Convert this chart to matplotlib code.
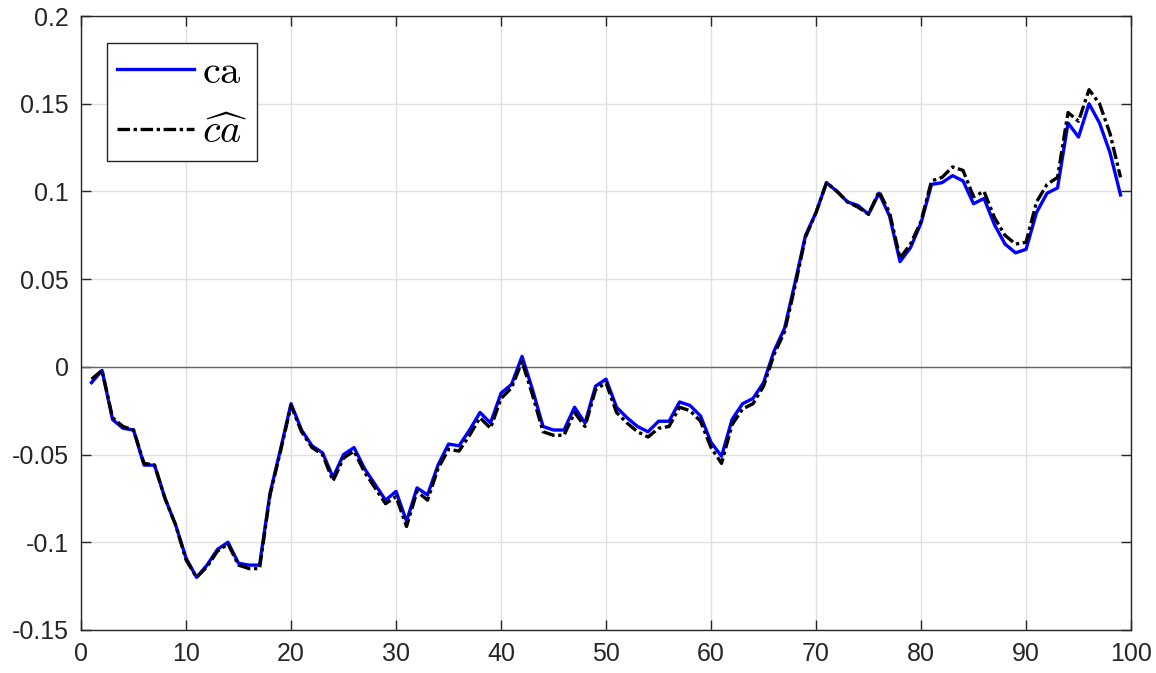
import numpy as np
import matplotlib
matplotlib.use("Agg")
import matplotlib.pyplot as plt

plt.rcParams["font.family"] = ["Liberation Sans", "DejaVu Sans"]
plt.rcParams["mathtext.fontset"] = "cm"
plt.rcParams["lines.scale_dashes"] = False

steps = list(range(1, 100))

ca = [
    -0.009, -0.002, -0.030, -0.035, -0.036, -0.056, -0.056, -0.075, -0.090, -0.109,
    -0.120, -0.113, -0.104, -0.100, -0.112, -0.113, -0.113, -0.072, -0.047, -0.021,
    -0.036, -0.045, -0.049, -0.063, -0.050, -0.046, -0.058, -0.067, -0.076, -0.071,
    -0.088, -0.069, -0.073, -0.056, -0.044, -0.045, -0.036, -0.026, -0.032, -0.015,
    -0.010, 0.006, -0.013, -0.034, -0.036, -0.036, -0.023, -0.032, -0.011, -0.007,
    -0.023, -0.029, -0.034, -0.037, -0.031, -0.031, -0.020, -0.022, -0.028, -0.043,
    -0.051, -0.030, -0.021, -0.018, -0.009, 0.009, 0.022, 0.048, 0.075, 0.088,
    0.105, 0.100, 0.094, 0.092, 0.087, 0.099, 0.086, 0.060, 0.068, 0.082,
    0.104, 0.105, 0.109, 0.106, 0.093, 0.096, 0.081, 0.070, 0.065, 0.067,
    0.088, 0.099, 0.102, 0.139, 0.131, 0.150, 0.139, 0.122, 0.098,
]

ca_hat = [
    -0.007, -0.002, -0.029, -0.034, -0.036, -0.055, -0.056, -0.075, -0.090, -0.110,
    -0.120, -0.114, -0.105, -0.101, -0.113, -0.115, -0.115, -0.073, -0.048, -0.022,
    -0.037, -0.046, -0.050, -0.065, -0.052, -0.048, -0.060, -0.069, -0.078, -0.074,
    -0.091, -0.071, -0.076, -0.058, -0.047, -0.048, -0.039, -0.029, -0.035, -0.018,
    -0.012, 0.003, -0.016, -0.037, -0.039, -0.039, -0.026, -0.034, -0.013, -0.009,
    -0.026, -0.032, -0.037, -0.040, -0.035, -0.034, -0.023, -0.025, -0.031, -0.046,
    -0.055, -0.033, -0.024, -0.021, -0.011, 0.007, 0.020, 0.046, 0.074, 0.088,
    0.105, 0.100, 0.094, 0.091, 0.087, 0.100, 0.088, 0.062, 0.070, 0.083,
    0.106, 0.108, 0.114, 0.112, 0.097, 0.100, 0.085, 0.075, 0.070, 0.071,
    0.094, 0.104, 0.108, 0.145, 0.140, 0.158, 0.150, 0.133, 0.108,
]

fig = plt.figure(figsize=(11.56, 6.73), dpi=100)
ax = fig.add_axes([0.0701, 0.0639, 0.9083, 0.9123])

axis_col = (0.15, 0.15, 0.15)

ax.plot(steps, ca, color=(0, 0, 1), lw=2.4, label=r"$\mathrm{ca}$", zorder=3)
ax.plot(steps, ca_hat, color="black", lw=2.4, dashes=(9, 2.6, 2.4, 2.6),
        label=r"$\widehat{ca}$", zorder=4)
ax.axhline(0, color=(0.4, 0.4, 0.4), lw=1.0, zorder=2)

ax.set_xlim(0, 100)
ax.set_ylim(-0.15, 0.2)
ax.set_xticks(np.arange(0, 101, 10))
ax.set_yticks(np.arange(-0.15, 0.201, 0.05))
ax.set_yticklabels(["-0.15", "-0.1", "-0.05", "0", "0.05", "0.1", "0.15", "0.2"])
ax.grid(True, color=(0.88, 0.88, 0.88), lw=1.0)
ax.set_axisbelow(True)

for s in ax.spines.values():
    s.set_color(axis_col)
    s.set_linewidth(1.0)
ax.tick_params(direction="in", top=True, right=True, length=7, width=1.0,
               color=axis_col, labelsize=18, labelcolor=axis_col)
ax.tick_params(axis="y", pad=9)
ax.tick_params(axis="x", pad=9)

lgd = ax.legend(loc="upper left", bbox_to_anchor=(107 / 1156, 1 - 43 / 673),
                bbox_transform=fig.transFigure, fontsize=29,
                frameon=True, fancybox=False, edgecolor=axis_col, framealpha=1,
                handlelength=1.9, handletextpad=0.2, borderpad=0.25, labelspacing=0.55,
                borderaxespad=0)
lgd.get_frame().set_linewidth(1.0)

fig.savefig("out.png", dpi=100)
